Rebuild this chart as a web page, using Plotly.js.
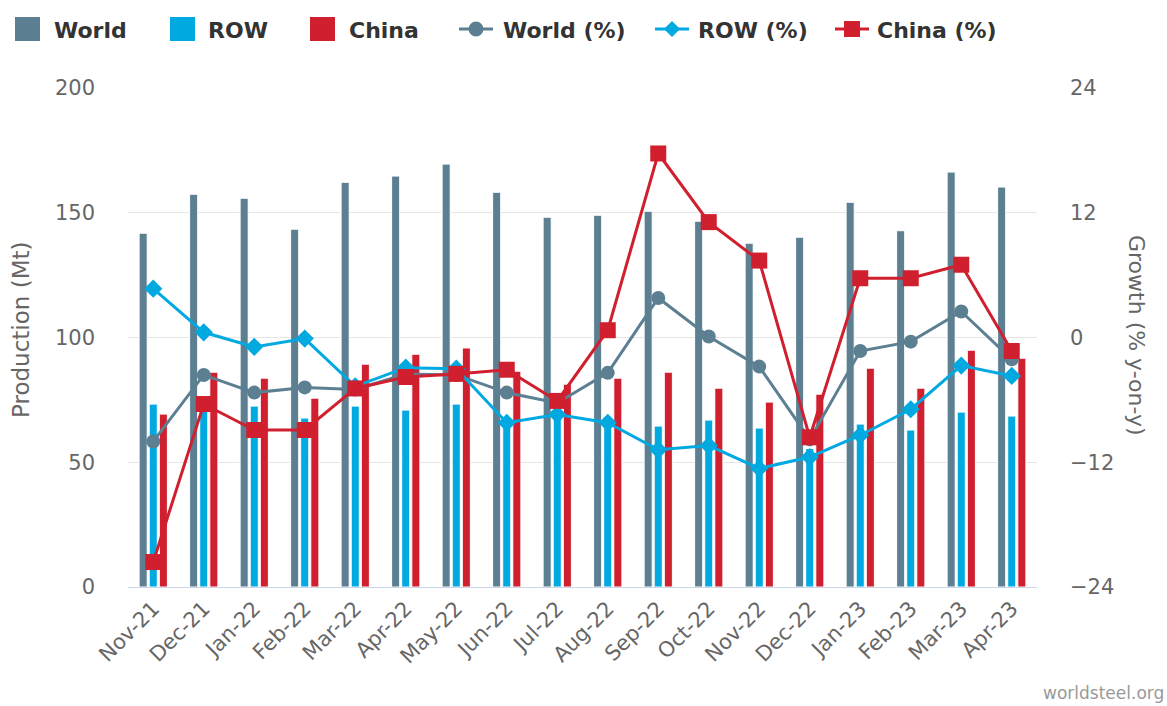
<!DOCTYPE html>
<html>
<head>
<meta charset="utf-8">
<script src="https://cdn.plot.ly/plotly-3.0.1.min.js"></script>
<style>html,body{margin:0;padding:0;background:#fff;} #chart{width:1167px;height:706px;}</style>
</head>
<body>
<div id="chart"></div>
<script>
const months = ["Nov-21","Dec-21","Jan-22","Feb-22","Mar-22","Apr-22","May-22","Jun-22","Jul-22","Aug-22","Sep-22","Oct-22","Nov-22","Dec-22","Jan-23","Feb-23","Mar-23","Apr-23"];
const worldProd = [141.8,157.4,155.8,143.4,162.2,164.7,169.5,158.2,148.2,149.0,150.6,146.6,137.8,140.2,154.2,142.8,166.3,160.3];
const rowProd   = [73.3,71.0,72.5,67.7,72.5,70.9,73.3,67.3,68.5,65.7,64.5,66.9,63.7,55.5,65.3,62.9,70.1,68.5];
const chinaProd = [69.3,86.1,83.7,75.7,89.3,93.3,95.8,86.5,81.3,83.7,86.1,79.7,74.1,77.3,87.7,79.7,94.9,91.7];
const worldPct  = [-10.0,-3.6,-5.3,-4.8,-5.0,-3.5,-3.6,-5.3,-6.3,-3.4,3.8,0.1,-2.8,-9.8,-1.3,-0.4,2.5,-2.1];
const rowPct    = [4.7,0.5,-0.9,-0.1,-4.7,-2.9,-3.0,-8.2,-7.4,-8.2,-10.8,-10.4,-12.6,-11.5,-9.4,-6.9,-2.7,-3.7];
const chinaPct  = [-21.6,-6.4,-8.9,-8.9,-4.9,-3.8,-3.5,-3.1,-6.1,0.7,17.7,11.1,7.4,-9.6,5.7,5.7,7.0,-1.3];
const seriesNames = ["World","ROW","China","World (%)","ROW (%)","China (%)"];

const cWorld = "#5c7f92", cRow = "#00a9e0", cChina = "#d01f2e";
const font = "DejaVu Sans, sans-serif";

// plot area in pixels (for legend placement)
const W = 1167, H = 706, ML = 128, MR = 130, MT = 88, MB = 119;
const PW = W - ML - MR, PH = H - MT - MB;
const px = v => (v - ML) / PW;
const py = v => (H - MB - v) / PH;

const barLine = {color: "#ffffff", width: 1};
const traces = [
  {type:"bar", name:seriesNames[0], x:months, y:worldProd, marker:{color:cWorld, line:barLine}, yaxis:"y"},
  {type:"bar", name:seriesNames[1], x:months, y:rowProd, marker:{color:cRow, line:barLine}, yaxis:"y"},
  {type:"bar", name:seriesNames[2], x:months, y:chinaProd, marker:{color:cChina, line:barLine}, yaxis:"y"},
  {type:"scatter", mode:"lines+markers", name:seriesNames[3], x:months, y:worldPct, yaxis:"y2",
   line:{color:cWorld, width:3}, marker:{symbol:"circle", size:14, color:cWorld}},
  {type:"scatter", mode:"lines+markers", name:seriesNames[4], x:months, y:rowPct, yaxis:"y2",
   line:{color:cRow, width:3}, marker:{symbol:"diamond", size:14, color:cRow}},
  {type:"scatter", mode:"lines+markers", name:seriesNames[5], x:months, y:chinaPct, yaxis:"y2",
   line:{color:cChina, width:3}, marker:{symbol:"square", size:16, color:cChina}}
];

// custom legend (symbols as shapes, labels as text)
const legY = 29;
const shapes = [];
const annotations = [];
const legendItems = [
  {kind:"bar", color:cWorld, sx:15, tx:54},
  {kind:"bar", color:cRow, sx:170, tx:208},
  {kind:"bar", color:cChina, sx:310, tx:349},
  {kind:"circle", color:cWorld, sx:459, tx:503},
  {kind:"diamond", color:cRow, sx:655, tx:698},
  {kind:"square", color:cChina, sx:835, tx:877}
];
legendItems.forEach((it, i) => {
  if (it.kind === "bar") {
    shapes.push({type:"rect", xref:"paper", yref:"paper", x0:px(it.sx), x1:px(it.sx+25), y0:py(legY+12), y1:py(legY-12),
                 fillcolor:it.color, line:{width:0}});
  } else {
    const x1 = it.sx, x2 = it.sx + 34, cx = (x1 + x2) / 2;
    shapes.push({type:"line", xref:"paper", yref:"paper", x0:px(x1), x1:px(x2), y0:py(legY), y1:py(legY),
                 line:{color:it.color, width:3}});
    if (it.kind === "circle") {
      shapes.push({type:"circle", xref:"paper", yref:"paper", x0:px(cx-7.5), x1:px(cx+7.5), y0:py(legY+7.5), y1:py(legY-7.5),
                   fillcolor:it.color, line:{width:0}});
    } else if (it.kind === "square") {
      shapes.push({type:"rect", xref:"paper", yref:"paper", x0:px(cx-8), x1:px(cx+8), y0:py(legY+8), y1:py(legY-8),
                   fillcolor:it.color, line:{width:0}});
    } else {
      const path = `M ${px(cx)} ${py(legY-8)} L ${px(cx+8)} ${py(legY)} L ${px(cx)} ${py(legY+8)} L ${px(cx-8)} ${py(legY)} Z`;
      shapes.push({type:"path", xref:"paper", yref:"paper", path:path, fillcolor:it.color, line:{width:0}});
    }
  }
  annotations.push({text:"<b>" + seriesNames[i] + "</b>", xref:"paper", yref:"paper", x:px(it.tx - 2), y:py(legY + 1),
                    xanchor:"left", yanchor:"middle", showarrow:false,
                    font:{family:font, size:22, color:"#333333"}});
});

annotations.push(
  {text:"Production (Mt)", xref:"paper", yref:"paper", x:px(21), y:py(330), textangle:-90, showarrow:false,
   xanchor:"center", yanchor:"middle", font:{size:23, color:"#666666", family:font}},
  {text:"Growth (% y-on-y)", xref:"paper", yref:"paper", x:px(1137), y:py(335), textangle:90, showarrow:false,
   xanchor:"center", yanchor:"middle", font:{size:22, color:"#666666", family:font}},
  {text:"worldsteel.org", xref:"paper", yref:"paper", x:px(1166), y:py(693), showarrow:false,
   xanchor:"right", yanchor:"middle", font:{size:17, color:"#999999", family:font}}
);

const layout = {
  width:W, height:H,
  paper_bgcolor:"#ffffff", plot_bgcolor:"#ffffff",
  font:{family:font, color:"#666666"},
  margin:{l:ML, r:MR, t:MT, b:MB, autoexpand:false},
  barmode:"group", bargap:0.4, bargroupgap:0.2,
  showlegend:false,
  xaxis:{type:"category", range:[-0.5, 17.5], tickangle:-45, tickfont:{size:21, color:"#666666"},
         showline:true, linecolor:"#ccd6eb", linewidth:1, ticks:"", showgrid:false, zeroline:false,
         automargin:false},
  yaxis:{range:[0,200], dtick:50, tickfont:{size:21, color:"#666666"}, showgrid:true, gridcolor:"#e6e6e6",
         gridwidth:1, zeroline:false, ticklabelstandoff:32, showline:false, automargin:false},
  yaxis2:{range:[-24,24], dtick:12, overlaying:"y", side:"right", tickfont:{size:21, color:"#666666"},
          showgrid:false, zeroline:false, ticklabelstandoff:32, automargin:false},
  shapes:shapes,
  annotations:annotations
};

Plotly.newPlot("chart", traces, layout, {displayModeBar:false, staticPlot:true});
</script>
</body>
</html>
